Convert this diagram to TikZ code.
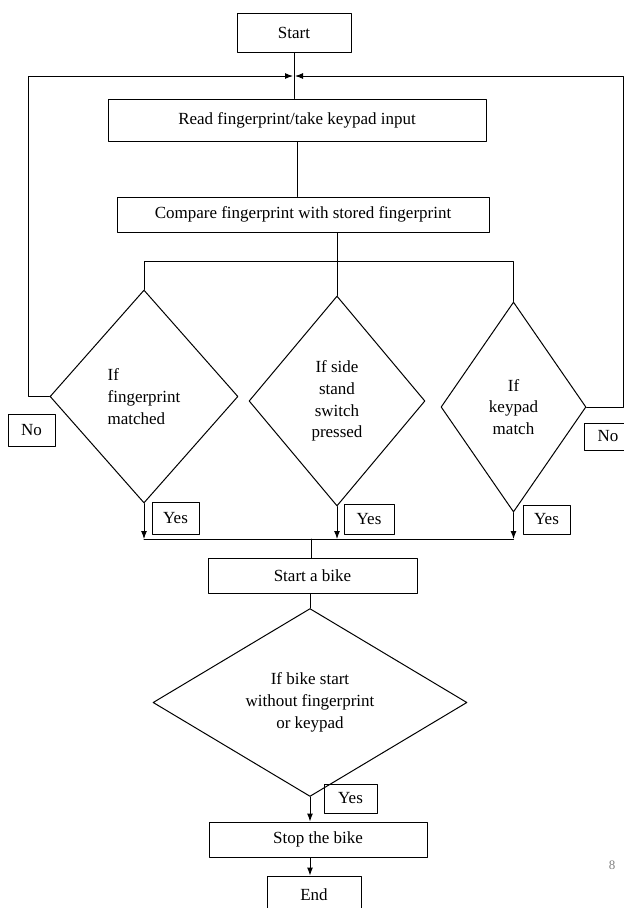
\documentclass[tikz,border=0pt]{standalone}
\usepackage{fontspec}
\setmainfont{Liberation Serif}
\usetikzlibrary{arrows.meta, shapes.geometric}

\begin{document}
\begin{tikzpicture}[line cap=round, line join=round, x=1pt, y=-1pt,
    every node/.style={font=\fontsize{17}{21.7}\selectfont},
    box/.style={draw, line width=1pt, minimum height=35pt, inner sep=0pt},
    decision/.style={draw, diamond, line width=1pt, inner sep=0pt, align=center},
    tag/.style={draw, line width=1pt, minimum width=47pt, minimum height=31pt, inner sep=0pt},
    flow/.style={line width=1pt},
    tip/.style={line width=1pt, -{Latex[length=8pt, width=6pt]}}]
    \useasboundingbox (0,0) rectangle (624,908);

    % Process boxes
    \draw (294,32.5) node[box, minimum width=114pt, minimum height=39pt] (start) {Start};
    \draw (297,120) node[box, minimum width=378pt, minimum height=42pt] (read) {Read fingerprint/take keypad input};
    \draw (303,214.5) node[box, minimum width=372pt] (compare) {Compare fingerprint with stored fingerprint};
    \draw (312.5,575.5) node[box, minimum width=209pt] (bike) {Start a bike};
    \draw (318,839.5) node[box, minimum width=218pt] (stop) {Stop the bike};
    \draw (314,895) node[box, minimum width=94pt, minimum height=38pt] (end) {End};

    % Decisions
    \draw (144,396.5) node[decision, align=left, minimum width=188pt, minimum height=213pt] (d1) {If\\fingerprint\\matched};
    \draw (337,401) node[decision, minimum width=176pt, minimum height=210pt] (d2) {If side\\stand\\switch\\pressed};
    \draw (513.5,407) node[decision, minimum width=145pt, minimum height=210pt] (d3) {If\\keypad\\match};
    \draw (310,702.5) node[decision, minimum width=314pt, minimum height=161pt] (big) {If bike start\\without fingerprint\\or keypad};

    % Yes / No tags
    \draw (175.5,518) node[tag, minimum height=32pt] (yes1) {Yes};
    \draw (369,519) node[tag, minimum width=50pt, minimum height=30pt] (yes2) {Yes};
    \draw (546.5,519.5) node[tag, minimum height=29pt] (yes3) {Yes};
    \draw (350.5,798.5) node[tag, minimum width=53pt, minimum height=29pt] (yes4) {Yes};
    \draw (31.5,430) node[tag, minimum height=32pt] (no1) {No};
    \draw (608,436.5) node[tag, minimum height=27pt] (no2) {No};

    \draw (612,865) node[text=gray, font=\fontsize{13}{15}\selectfont] (pagenum) {8};

    % Junction points
    \coordinate (join) at (294,76);
    \coordinate (leftrail) at (28,76);
    \coordinate (rightrail) at (623,76);
    \coordinate (fork) at (337,261);
    \coordinate (merge) at (311,539);

    % Edges
    \draw[flow] (start.south) -- (start.south |- read.north);
    \draw[flow] (read.south) -- (read.south |- compare.north);
    \draw[flow] (fork |- compare.south) -- (d2.north);
    \draw[flow] (d1.north) -- (d1.north |- fork) -- (d3.north |- fork) -- (d3.north);

    % No loops
    \draw[tip] (d1.west) -- (d1.west -| leftrail) -- (leftrail) -- ([xshift=-1pt]join);
    \draw[tip] (d3.east) -- (d3.east -| rightrail) -- (rightrail) -- ([xshift=1pt]join);

    % Yes branches
    \foreach \dec in {d1, d2, d3} {
            \draw[tip] (\dec.south) -- (\dec.south |- merge);
        }
    \draw[flow] (d1.south |- merge) -- (d3.south |- merge);
    \draw[flow] (merge) -- (merge |- bike.north);
    \draw[flow] (big.north |- bike.south) -- (big.north);

    \foreach \source/\target in {big/stop, stop/end} {
            \draw[tip] (big.south |- \source.south) -- (big.south |- \target.north);
        }
\end{tikzpicture}
\end{document}
